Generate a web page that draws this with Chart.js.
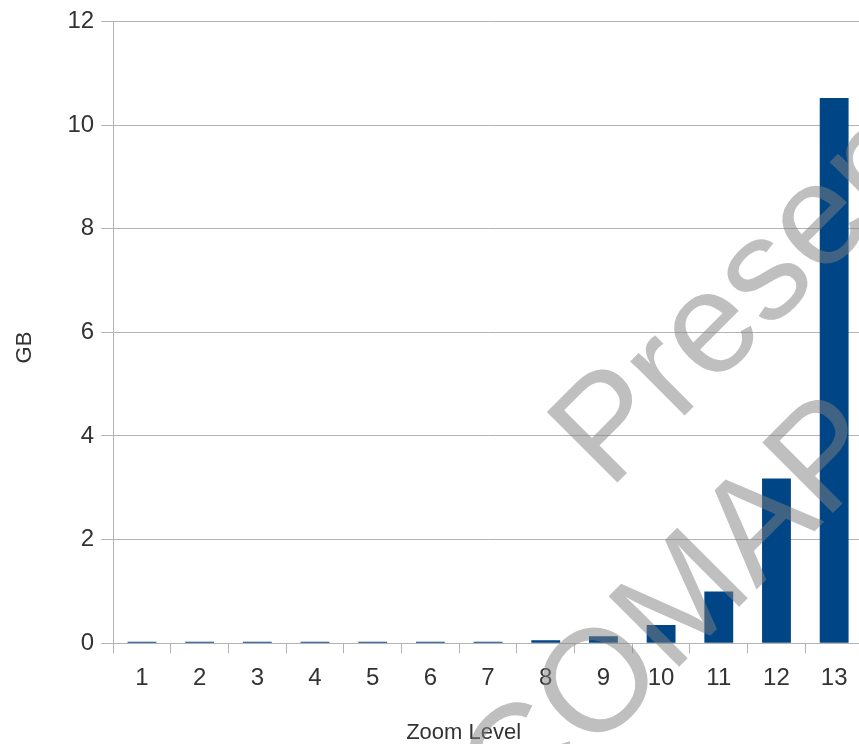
<!DOCTYPE html>
<html>
<head>
<meta charset="utf-8">
<script src="https://cdn.jsdelivr.net/npm/chart.js@4.4.1/dist/chart.umd.min.js"></script>
<style>
   html, body { margin: 0; padding: 0; background: #fff; overflow: hidden; }
   #wrap { width: 859px; height: 744px; overflow: hidden; }
</style>
</head>
<body>
<div id="wrap"><canvas id="grafica" width="864" height="744"></canvas></div>
<script>
// datos
const niveles = ['1', '2', '3', '4', '5', '6', '7', '8', '9', '10', '11', '12', '13'];
const tamanoGB = [0.0001, 0.0003, 0.001, 0.002, 0.005, 0.01, 0.02, 0.058, 0.135, 0.35, 1.0, 3.18, 10.52];
const marcasY = [0, 2, 4, 6, 8, 10, 12];

const fuente = "'Liberation Sans', Arial, sans-serif";
const gris = '#b3b3b3';
const texto = '#333333';

// marca de agua gris encima de todo
const marcaAgua = {
   id: 'marcaAgua',
   afterDraw(chart) {
      const c = chart.ctx;
      c.save();
      c.fillStyle = 'rgba(128, 128, 128, 0.5)';
      c.font = '145px ' + fuente;
      c.textBaseline = 'alphabetic';
      c.textAlign = 'left';
      c.translate(609, 491);
      c.rotate(-Math.PI / 4);
      c.fillText('Presentation', 0, 0);
      c.restore();
      c.save();
      c.fillStyle = 'rgba(128, 128, 128, 0.5)';
      c.font = '145px ' + fuente;
      c.translate(517, 829);
      c.rotate(-Math.PI / 4);
      c.fillText('COMAP', 0, 0);
      c.restore();
   }
};

const ctx = document.getElementById('grafica').getContext('2d');

const chart = new Chart(ctx, {
   type: 'bar',
   data: {
      labels: niveles,
      datasets: [{
         label: 'GB',
         data: tamanoGB,
         backgroundColor: '#004586',
         borderWidth: 0,
         barPercentage: 0.5,
         categoryPercentage: 1.0,
         minBarLength: 1.5
      }]
   },
   options: {
      responsive: false,
      animation: false,
      layout: { padding: { top: 21, right: 1, left: 0, bottom: 0 } },
      plugins: {
         legend: { display: false },
         tooltip: { enabled: false }
      },
      scales: {
         x: {
            grid: { drawOnChartArea: false, color: gris, tickLength: 10 },
            border: { color: gris },
            ticks: { color: texto, font: { family: fuente, size: 24 }, padding: 11 },
            title: {
               display: true,
               text: 'Zoom Level        ',
               color: texto,
               font: { family: fuente, size: 22, lineHeight: 1.0 },
               padding: { top: 18, bottom: 0 }
            }
         },
         y: {
            min: 0,
            max: 12,
            afterBuildTicks: (eje) => { eje.ticks = marcasY.map(v => ({ value: v })); },
            grid: { color: gris, tickLength: 12 },
            border: { color: gris },
            ticks: { color: texto, font: { family: fuente, size: 24 }, padding: 7 },
            title: {
               display: true,
               text: 'GB     ',
               color: texto,
               font: { family: fuente, size: 22 },
               padding: { top: 12, bottom: 22 }
            }
         }
      }
   },
   plugins: [marcaAgua]
});
</script>
</body>
</html>
